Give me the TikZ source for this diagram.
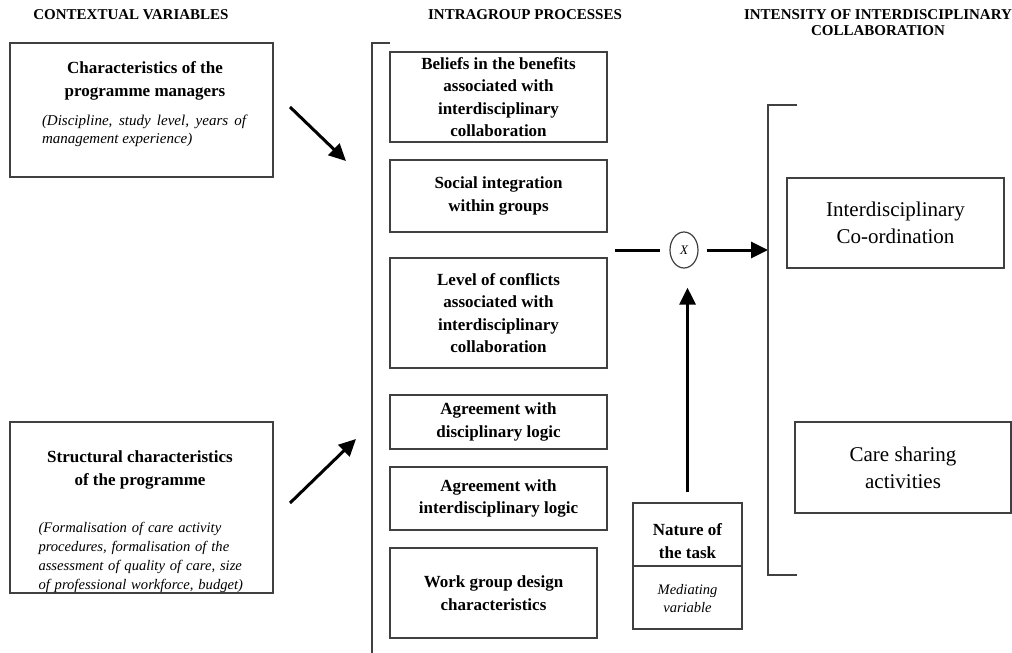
\documentclass[tikz,border=0pt]{standalone}
\usepackage{fontspec}
\setmainfont{Liberation Serif}
\usetikzlibrary{arrows.meta, positioning, shapes.geometric}
\tikzset{
  pbox/.style={draw=black!75, line width=1.3pt, rectangle, inner sep=0pt, align=center},
  hdr/.style={font=\fontsize{15}{16}\selectfont\bfseries, align=center},
  ttl/.style={font=\fontsize{17}{22.5}\selectfont\bfseries, align=center},
  note/.style={font=\fontsize{15}{18}\selectfont\itshape, inner sep=0pt},
  outc/.style={font=\fontsize{21}{27}\selectfont},
  arr/.style={-{Triangle[length=17pt, width=16pt]}, line width=3pt},
  brk/.style={draw=black!75, line width=1.3pt},
}

\begin{document}
\begin{tikzpicture}[x=1pt, y=-1pt]
		\useasboundingbox (0,0) rectangle (1012,653);
		% Headers:
		\node[hdr] (hctx) at (131, 15) {CONTEXTUAL VARIABLES};
		\node[hdr] (hintra) at (525, 15) {INTRAGROUP PROCESSES};
		\node[hdr] (hinten) at (878, 22.5) {INTENSITY OF INTERDISCIPLINARY\\COLLABORATION};
		% Contextual variables:
		\node[pbox, minimum width=263pt, minimum height=134pt] (mgr) at (141.5, 110){};
		\node[ttl] (mgrt) at (145, 81){Characteristics of the\\programme managers};
		\node[note, text width=204pt, align=justify] (mgrn) at (144, 131){(Discipline, study level, years of\linebreak management experience)};
		\node[pbox, minimum width=263pt, minimum height=171pt] (struc) at (141.5, 507.5){};
		\node[ttl] (struct) at (140, 470){Structural characteristics\\of the programme};
		\node[note, text width=215pt, align=left, font=\fontsize{14.6}{19}\selectfont\itshape] (strucn) at (146, 557){(Formalisation of care activity\\procedures, formalisation of the\\assessment of quality of care, size\\of professional workforce, budget)};
		\coordinate (a1s) at (290, 107);
		\coordinate (a1e) at (346, 161);
		\coordinate (a2s) at (290, 503);
		\coordinate (a2e) at (356, 439);
		\draw[arr] (a1s) -- (a1e);
		\draw[arr] (a2s) -- (a2e);
		% Intragroup processes:
		\draw[brk] (390, 43) -- (372, 43) -- (372, 653);
		\node[pbox, ttl, minimum width=217pt, minimum height=90pt] (belief) at (498.5, 97){Beliefs in the benefits\\associated with\\interdisciplinary\\collaboration};
		\node[pbox, ttl, minimum width=217pt, minimum height=72pt] (social) at (498.5, 196){Social integration\\within groups};
		\node[pbox, ttl, minimum width=217pt, minimum height=110pt] (conflict) at (498.5, 313){Level of conflicts\\associated with\\interdisciplinary\\collaboration};
		\node[pbox, ttl, minimum width=217pt, minimum height=54pt] (discl) at (498.5, 422){Agreement with\\disciplinary logic};
		\node[pbox, ttl, minimum width=217pt, minimum height=63pt] (interl) at (498.5, 498.5){Agreement with\\interdisciplinary logic};
		\node[pbox, ttl, minimum width=207pt, minimum height=90pt] (design) at (493.5, 593){Work group design\\characteristics};
		% Mediation:
		\node[draw=black!75, line width=1.2pt, ellipse, minimum width=28pt, minimum height=36pt, inner sep=0pt, font=\fontsize{13}{13}\selectfont\itshape] (mult) at (684, 250){X};
		\coordinate (min) at (615, 250);
		\coordinate (rin) at (768, 250);
		\draw[line width=3pt] (min) -- ([xshift=-9pt]mult.west);
		\draw[arr] ([xshift=8pt]mult.east) -- (rin);
		\node[pbox, minimum width=109pt, minimum height=126pt] (task) at (687.5, 566){};
		\draw[brk] (task.west) -- (task.east);
		\node[ttl] (taskt) at (687.5, 541){Nature of\\the task};
		\node[note, align=center, font=\fontsize{14.5}{18}\selectfont\itshape] (taskn) at (687.5, 599){Mediating\\variable};
		\draw[arr] ([yshift=10pt]task.north) -- ([yshift=-19pt]task.north |- mult.south);
		% Intensity of collaboration:
		\draw[brk] (797, 105) -- (768, 105) -- (768, 575) -- (797, 575);
		\node[pbox, outc, minimum width=217pt, minimum height=90pt] (coord) at (895.5, 223){Interdisciplinary\\Co-ordination};
		\node[pbox, outc, minimum width=216pt, minimum height=91pt] (share) at (903, 467.5){Care sharing\\activities};
	\end{tikzpicture}
\end{document}
